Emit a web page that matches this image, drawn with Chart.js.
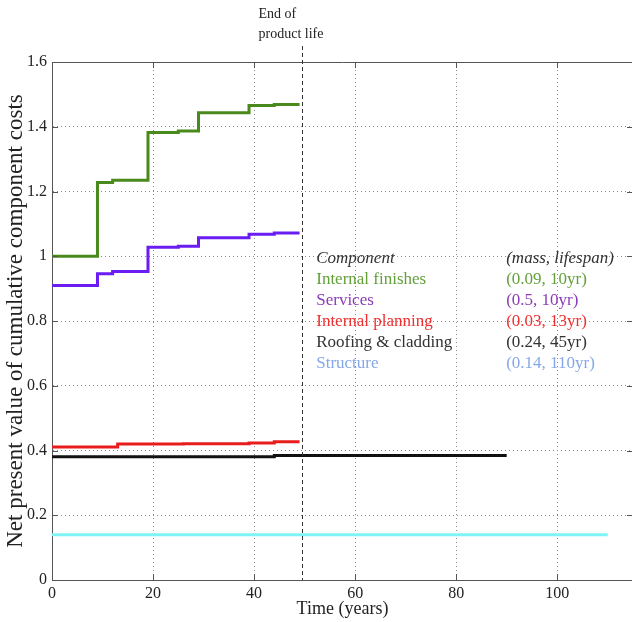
<!DOCTYPE html>
<html lang="en">
<head>
<meta charset="UTF-8">
<title>Component costs</title>
<script src="https://cdn.jsdelivr.net/npm/chart.js"></script>
<style>
    body { margin: 0; overflow: hidden; background: #fff; }
    #costs { display: block; }
</style>
</head>
<body>
<canvas id="costs" width="634" height="622"></canvas>
<script>
    // replacement years and cumulative net present value of each component
    const finishesYears = [0, 9, 12, 19, 25, 29, 39, 44, 49];
    const finishesCost = [1.0, 1.228, 1.235, 1.382, 1.387, 1.443, 1.466, 1.469, 1.469];
    const servicesYears = [0, 9, 12, 19, 25, 29, 39, 44, 49];
    const servicesCost = [0.910, 0.946, 0.953, 1.028, 1.031, 1.057, 1.068, 1.072, 1.072];
    const planningYears = [0, 13, 26, 39, 44, 49];
    const planningCost = [0.411, 0.420, 0.421, 0.4235, 0.427, 0.427];
    const roofingYears = [0, 44, 90];
    const roofingCost = [0.3805, 0.3845, 0.3845];
    const structureYears = [0, 110];
    const structureCost = [0.14, 0.14];

    const productLife = 49.5;
    const xTicks = [0, 20, 40, 60, 80, 100];
    const yTicks = [0, 0.2, 0.4, 0.6, 0.8, 1, 1.2, 1.4, 1.6];

    const legendNames = ['Internal finishes', 'Services', 'Internal planning', 'Roofing & cladding', 'Structure'];
    const legendInfo = ['(0.09, 10yr)', '(0.5, 10yr)', '(0.03, 13yr)', '(0.24, 45yr)', '(0.14, 110yr)'];
    const legendColors = ['#64a03a', '#8c3cb8', '#ee3030', '#333333', '#86a8e8'];

    const serif = "'Liberation Serif', 'Times New Roman', serif";

    function points(xs, ys) {
        return xs.map((x, i) => ({x: x, y: ys[i]}));
    }

    // each value holds until the next replacement year
    function stepLine(xs, ys, color) {
        return {
            data: points(xs, ys),
            borderColor: color,
            borderWidth: 3,
            stepped: 'before',
            pointRadius: 0,
            fill: false
        };
    }

    // axis box, inward ticks, end-of-life marker and the text legend
    const extras = {
        id: 'extras',
        afterDatasetsDraw(chart) {
            const ctx = chart.ctx;
            const a = chart.chartArea;
            const xs = chart.scales.x;
            const ys = chart.scales.y;
            ctx.save();

            ctx.strokeStyle = '#555';
            ctx.lineWidth = 1;
            ctx.beginPath();
            ctx.moveTo(a.left, a.top + 0.5);
            ctx.lineTo(a.right, a.top + 0.5);
            ctx.moveTo(a.right - 0.5, a.top);
            ctx.lineTo(a.right - 0.5, a.bottom);
            xTicks.forEach(v => {
                const px = Math.round(xs.getPixelForValue(v)) + 0.5;
                ctx.moveTo(px, a.bottom);
                ctx.lineTo(px, a.bottom - 6);
                ctx.moveTo(px, a.top);
                ctx.lineTo(px, a.top + 6);
            });
            yTicks.forEach(v => {
                const py = Math.round(ys.getPixelForValue(v)) + 0.5;
                ctx.moveTo(a.left, py);
                ctx.lineTo(a.left + 6, py);
                ctx.moveTo(a.right, py);
                ctx.lineTo(a.right - 6, py);
            });
            ctx.stroke();

            const lx = Math.round(xs.getPixelForValue(productLife)) + 0.5;
            ctx.strokeStyle = '#333';
            ctx.setLineDash([4, 3]);
            ctx.beginPath();
            ctx.moveTo(lx, 46);
            ctx.lineTo(lx, a.bottom);
            ctx.stroke();
            ctx.setLineDash([]);

            ctx.fillStyle = '#222';
            ctx.textAlign = 'left';
            ctx.textBaseline = 'middle';
            ctx.font = '14px ' + serif;
            ctx.fillText('End of', lx - 44, 14);
            ctx.fillText('product life', lx - 44, 34);

            const col1 = xs.getPixelForValue(52.3);
            const col2 = xs.getPixelForValue(89.9);
            let row = ys.getPixelForValue(1.0) + 2;
            ctx.fillStyle = '#333';
            ctx.font = 'italic 17px ' + serif;
            ctx.fillText('Component', col1, row);
            ctx.fillText('(mass, lifespan)', col2, row);
            ctx.font = '17px ' + serif;
            legendNames.forEach((name, i) => {
                row += 21;
                ctx.fillStyle = legendColors[i];
                ctx.fillText(name, col1, row);
                ctx.fillText(legendInfo[i], col2, row);
            });
            ctx.restore();
        }
    };

    new Chart(document.getElementById('costs'), {
        type: 'line',
        data: {
            datasets: [
                stepLine(finishesYears, finishesCost, '#4a8a1c'),
                stepLine(servicesYears, servicesCost, '#6a1cf2'),
                stepLine(planningYears, planningCost, '#e81c1c'),
                stepLine(roofingYears, roofingCost, '#111111'),
                stepLine(structureYears, structureCost, '#80f4f4')
            ]
        },
        options: {
            responsive: false,
            animation: false,
            devicePixelRatio: 1,
            layout: {padding: {top: 62, right: 1, left: 0, bottom: 0}},
            plugins: {legend: {display: false}, tooltip: {enabled: false}},
            scales: {
                x: {
                    type: 'linear',
                    min: 0,
                    max: 115,
                    afterBuildTicks: s => { s.ticks = xTicks.map(v => ({value: v})); },
                    afterFit: s => { s.height = 42; },
                    grid: {color: '#8a8a8a', drawTicks: false},
                    border: {color: '#555', width: 1, dash: [1, 3]},
                    ticks: {color: '#222', padding: 4, maxRotation: 0, font: {family: serif, size: 16}},
                    title: {display: true, text: 'Time (years)', color: '#222', font: {family: serif, size: 18}, padding: {top: 0, bottom: 2}}
                },
                y: {
                    min: 0,
                    max: 1.6,
                    afterBuildTicks: s => { s.ticks = yTicks.map(v => ({value: v})); },
                    afterFit: s => { s.width = 52; },
                    grid: {color: '#8a8a8a', drawTicks: false},
                    border: {color: '#555', width: 1, dash: [1, 3]},
                    ticks: {color: '#222', padding: 5, font: {family: serif, size: 16},
                        callback: v => String(Math.round(v * 10) / 10)},
                    title: {display: true, text: 'Net present value of cumulative component costs', color: '#222', font: {family: serif, size: 23}, padding: {top: 2, bottom: 0}}
                }
            }
        },
        plugins: [extras]
    });
</script>
</body>
</html>
